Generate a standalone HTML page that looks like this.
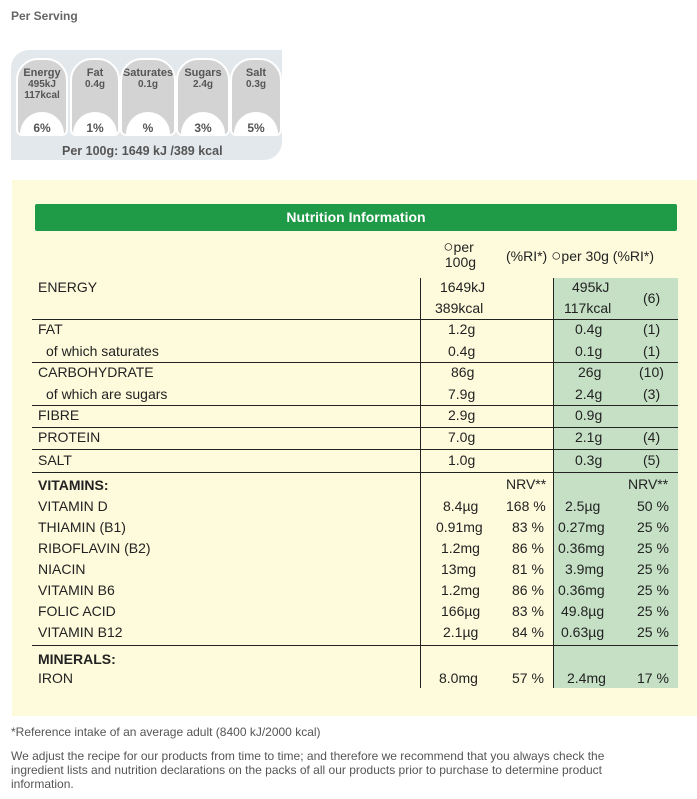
<!DOCTYPE html>
<html><head><meta charset="utf-8"><style>
*{margin:0;padding:0;box-sizing:border-box}
body{width:697px;height:799px;background:#fff;font-family:"Liberation Sans",sans-serif;color:#333;position:relative;overflow:hidden}
.a{position:absolute;white-space:nowrap}
.pill{position:absolute;top:58px;height:78px;background:#d3d3d3;border:2px solid #fff;border-radius:22px 22px 6px 6px;overflow:hidden;text-align:center;font-size:10px;color:#555;font-weight:bold}
.pill .t{font-size:11px;margin-top:7px}
.pill .c{position:absolute;left:50%;top:52px;width:44px;height:44px;margin-left:-22px;border-radius:50%;background:#fff;font-size:12px;padding-top:9px}
.row{position:absolute;left:38px;font-size:14px;color:#222}
.v{position:absolute;font-size:14px;color:#222;white-space:nowrap}
.hl{position:absolute;left:32px;width:646px;height:1px;background:#222}
.o{font-size:17px;line-height:14px}
</style></head><body>
<div class="a" style="left:11px;top:9px;font-size:12px;font-weight:bold;color:#666">Per Serving</div>
<div class="a" style="left:11px;top:50px;width:271px;height:110px;background:#e3e8ec;border-radius:18px 0 18px 0"></div>
<div class="pill" style="left:16px;width:52px"><div class="t">Energy</div>495kJ<br>117kcal<div class="c">6%</div></div>
<div class="pill" style="left:70px;width:50px"><div class="t">Fat</div>0.4g<div class="c">1%</div></div>
<div class="pill" style="left:120px;width:56px"><div class="t">Saturates</div>0.1g<div class="c">%</div></div>
<div class="pill" style="left:176px;width:54px"><div class="t">Sugars</div>2.4g<div class="c">3%</div></div>
<div class="pill" style="left:230px;width:52px"><div class="t">Salt</div>0.3g<div class="c">5%</div></div>
<div class="a" style="left:62px;top:144px;font-size:12.5px;font-weight:bold;color:#555">Per 100g: 1649 kJ /389 kcal</div>

<div class="a" style="left:12px;top:180px;width:685px;height:536px;background:#fefbdc"></div>
<div class="a" style="left:35px;top:204px;width:642px;height:27px;background:#1f9a47;border-radius:2px;color:#fff;font-weight:bold;font-size:14px;text-align:center;line-height:27px">Nutrition Information</div>
<div class="a" style="left:553px;top:278px;width:125px;height:410px;background:#c5e0c5"></div>
<div class="a" style="left:420px;top:278px;width:1px;height:410px;background:#222"></div>
<div class="a" style="left:553px;top:278px;width:1px;height:410px;background:#222"></div>

<div class="v" style="left:441px;top:240px;line-height:15px;text-align:center"><span class="o">○</span>per<br>&nbsp;100g</div>
<div class="v" style="left:506px;top:248px">(%RI*) <span class="o">○</span>per 30g (%RI*)</div>

<div class="row" style="top:279px">ENERGY</div>
<div class="v" style="left:440px;top:279px">1649kJ</div>
<div class="v" style="left:435px;top:300px">389kcal</div>
<div class="v" style="left:572px;top:279px">495kJ</div>
<div class="v" style="left:564px;top:300px">117kcal</div>
<div class="v" style="left:643px;top:290px">(6)</div>
<div class="hl" style="top:319px"></div>
<div class="row" style="top:321px">FAT</div><div class="v" style="left:448px;top:321px">1.2g</div><div class="v" style="left:575px;top:321px">0.4g</div><div class="v" style="left:643px;top:321px">(1)</div>
<div class="row" style="top:343px;left:46px">of which saturates</div><div class="v" style="left:448px;top:343px">0.4g</div><div class="v" style="left:575px;top:343px">0.1g</div><div class="v" style="left:643px;top:343px">(1)</div>
<div class="hl" style="top:362px"></div>
<div class="row" style="top:364px">CARBOHYDRATE</div><div class="v" style="left:451px;top:364px">86g</div><div class="v" style="left:578px;top:364px">26g</div><div class="v" style="left:639px;top:364px">(10)</div>
<div class="row" style="top:386px;left:46px">of which are sugars</div><div class="v" style="left:448px;top:386px">7.9g</div><div class="v" style="left:575px;top:386px">2.4g</div><div class="v" style="left:643px;top:386px">(3)</div>
<div class="hl" style="top:405px"></div>
<div class="row" style="top:407px">FIBRE</div><div class="v" style="left:448px;top:407px">2.9g</div><div class="v" style="left:575px;top:407px">0.9g</div>
<div class="hl" style="top:427px"></div>
<div class="row" style="top:429px">PROTEIN</div><div class="v" style="left:448px;top:429px">7.0g</div><div class="v" style="left:575px;top:429px">2.1g</div><div class="v" style="left:643px;top:429px">(4)</div>
<div class="hl" style="top:449px"></div>
<div class="row" style="top:452px">SALT</div><div class="v" style="left:448px;top:452px">1.0g</div><div class="v" style="left:575px;top:452px">0.3g</div><div class="v" style="left:643px;top:452px">(5)</div>
<div class="hl" style="top:472px"></div>

<div class="row" style="top:477px;font-weight:bold">VITAMINS:</div><div class="v" style="left:506px;top:476px">NRV**</div><div class="v" style="left:628px;top:476px">NRV**</div>
<div class="row" style="top:498px">VITAMIN D</div><div class="v" style="left:443px;top:498px">8.4µg</div><div class="v" style="left:506px;top:498px">168 %</div><div class="v" style="left:565px;top:498px">2.5µg</div><div class="v" style="left:637px;top:498px">50 %</div>
<div class="row" style="top:519px">THIAMIN (B1)</div><div class="v" style="left:436px;top:519px">0.91mg</div><div class="v" style="left:512px;top:519px">83 %</div><div class="v" style="left:558px;top:519px">0.27mg</div><div class="v" style="left:637px;top:519px">25 %</div>
<div class="row" style="top:540px">RIBOFLAVIN (B2)</div><div class="v" style="left:441px;top:540px">1.2mg</div><div class="v" style="left:512px;top:540px">86 %</div><div class="v" style="left:558px;top:540px">0.36mg</div><div class="v" style="left:637px;top:540px">25 %</div>
<div class="row" style="top:561px">NIACIN</div><div class="v" style="left:441px;top:561px">13mg</div><div class="v" style="left:512px;top:561px">81 %</div><div class="v" style="left:565px;top:561px">3.9mg</div><div class="v" style="left:637px;top:561px">25 %</div>
<div class="row" style="top:582px">VITAMIN B6</div><div class="v" style="left:441px;top:582px">1.2mg</div><div class="v" style="left:512px;top:582px">86 %</div><div class="v" style="left:558px;top:582px">0.36mg</div><div class="v" style="left:637px;top:582px">25 %</div>
<div class="row" style="top:603px">FOLIC ACID</div><div class="v" style="left:441px;top:603px">166µg</div><div class="v" style="left:512px;top:603px">83 %</div><div class="v" style="left:561px;top:603px">49.8µg</div><div class="v" style="left:637px;top:603px">25 %</div>
<div class="row" style="top:624px">VITAMIN B12</div><div class="v" style="left:443px;top:624px">2.1µg</div><div class="v" style="left:512px;top:624px">84 %</div><div class="v" style="left:561px;top:624px">0.63µg</div><div class="v" style="left:637px;top:624px">25 %</div>
<div class="hl" style="top:645px"></div>
<div class="row" style="top:651px;font-weight:bold">MINERALS:</div>
<div class="row" style="top:670px">IRON</div><div class="v" style="left:439px;top:670px">8.0mg</div><div class="v" style="left:512px;top:670px">57 %</div><div class="v" style="left:567px;top:670px">2.4mg</div><div class="v" style="left:637px;top:670px">17 %</div>

<div class="a" style="left:11px;top:725px;font-size:12px;color:#555">*Reference intake of an average adult (8400 kJ/2000 kcal)</div>
<div class="a" style="left:11px;top:749px;width:636px;font-size:12px;line-height:14px;color:#555;white-space:normal">We adjust the recipe for our products from time to time; and therefore we recommend that you always check the ingredient lists and nutrition declarations on the packs of all our products prior to purchase to determine product information.</div>
</body></html>
